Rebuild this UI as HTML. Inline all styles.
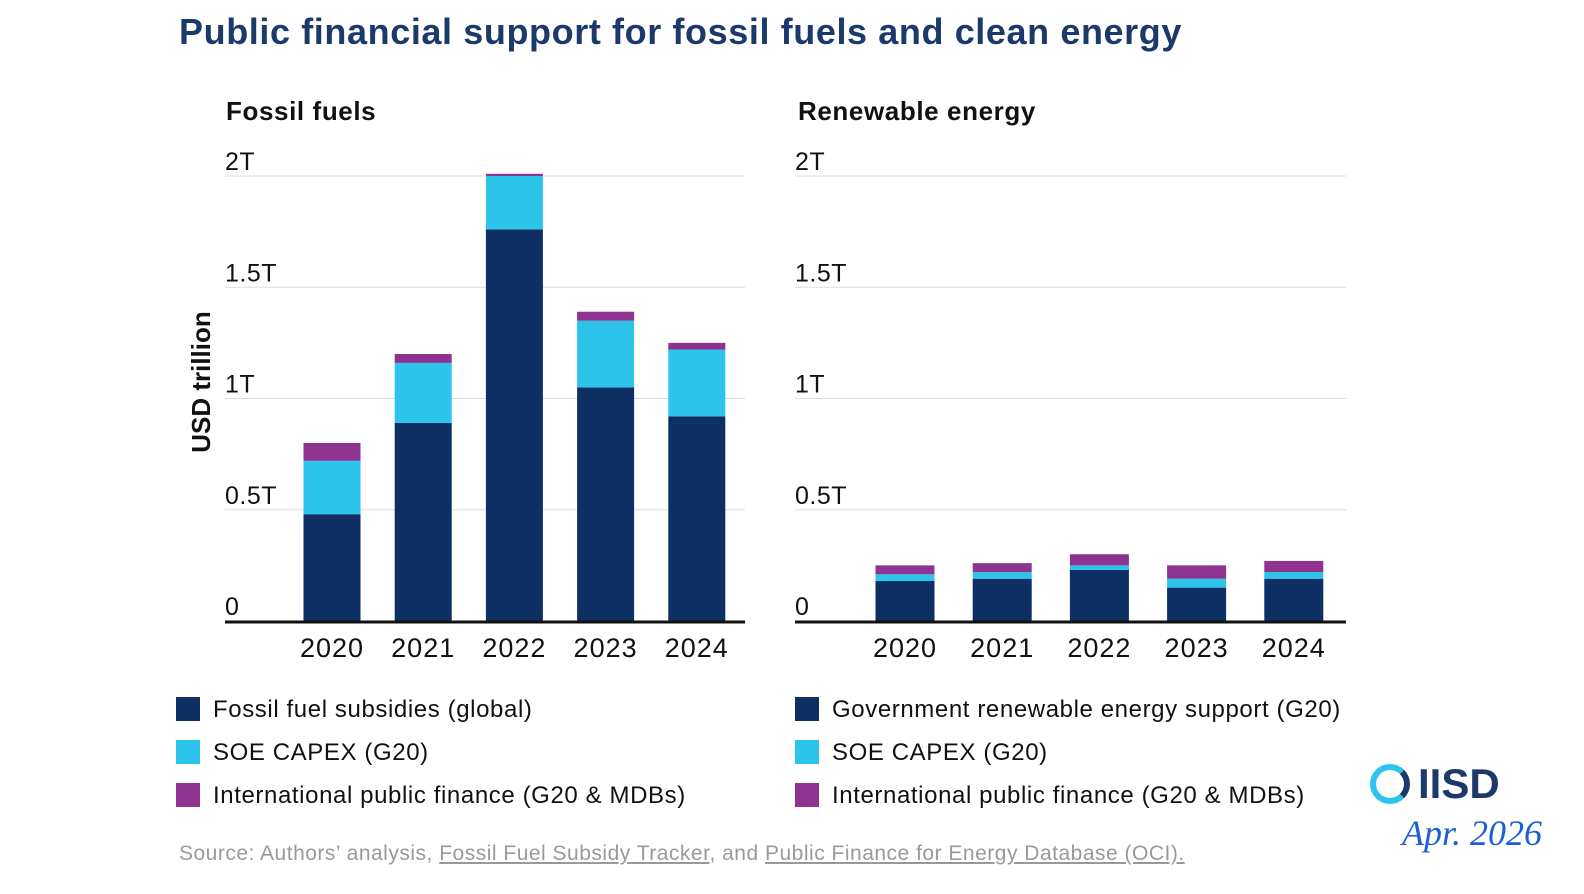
<!DOCTYPE html>
<html><head><meta charset="utf-8"><style>
body{margin:0;background:#fff;font-family:"Liberation Sans",sans-serif;}
#wrap{position:relative;width:1584px;height:894px;overflow:hidden;background:#fff}
.t{position:absolute;white-space:nowrap}
.leg{position:absolute;font-size:24px;letter-spacing:0.6px;color:#111;white-space:nowrap}
.sw{display:inline-block;width:24px;height:24px;vertical-align:-4px;margin-right:13px}
</style></head><body>
<div id="wrap">
<div class="t" style="left:179px;top:11px;font-size:36px;letter-spacing:0.6px;font-weight:bold;color:#1b3a6b">Public financial support for fossil fuels and clean energy</div>
<svg id="svg" width="1584" height="894" style="position:absolute;left:0;top:0"></svg>
<div class="leg" style="left:176px;top:696px"><span class="sw" style="background:#0d2f63"></span>Fossil fuel subsidies (global)</div>
<div class="leg" style="left:176px;top:739px"><span class="sw" style="background:#2cc4ea"></span>SOE CAPEX (G20)</div>
<div class="leg" style="left:176px;top:782px"><span class="sw" style="background:#8e3390"></span>International public finance (G20 &amp; MDBs)</div>
<div class="leg" style="left:795px;top:696px"><span class="sw" style="background:#0d2f63"></span>Government renewable energy support (G20)</div>
<div class="leg" style="left:795px;top:739px"><span class="sw" style="background:#2cc4ea"></span>SOE CAPEX (G20)</div>
<div class="leg" style="left:795px;top:782px"><span class="sw" style="background:#8e3390"></span>International public finance (G20 &amp; MDBs)</div>
<div class="t" style="left:179px;top:842px;font-size:21px;letter-spacing:0.5px;color:#999">Source: Authors’ analysis, <u>Fossil Fuel Subsidy Tracker</u>, and <u>Public Finance for Energy Database (OCI).</u></div>
<div class="t" style="left:1370px;top:760px;font-size:42px;font-weight:bold;color:#1b3a6b"><span style="display:inline-block;width:40px;height:40px;border:6px solid #2cc4ea;border-radius:50%;border-right-color:#1b3a6b;vertical-align:-6px;margin-right:8px;box-sizing:border-box"></span>IISD</div>
<div class="t" style="left:1402px;top:812px;font-size:36px;font-style:italic;color:#1a5fd6;font-family:'Liberation Serif',serif">Apr. 2026</div>
</div>
<script>
const years=["2020","2021","2022","2023","2024"];
const fossilSubsidies=[0.48,0.89,1.76,1.05,0.92];
const fossilSOE=[0.24,0.27,0.24,0.30,0.30];
const fossilIntl=[0.08,0.04,0.01,0.04,0.03];
const reGov=[0.18,0.19,0.23,0.15,0.19];
const reSOE=[0.03,0.03,0.02,0.04,0.03];
const reIntl=[0.04,0.04,0.05,0.06,0.05];
const ticks=[0,0.5,1,1.5,2];
const tickLabels=["0","0.5T","1T","1.5T","2T"];
const svg=document.getElementById('svg');const NS="http://www.w3.org/2000/svg";
function mk(tag,attrs){const e=document.createElementNS(NS,tag);for(const k in attrs)e.setAttribute(k,attrs[k]);svg.appendChild(e);return e;}
const y0=621,pxPerT=222.5;
function yS(v){return y0-v*pxPerT;}
function panel(x0,x1,firstC,step,bw,series,title,key){
  const tt=mk('text',{x:x0+(key==='fossil'?1:3),y:120,'font-size':26,'font-weight':'bold',fill:'#111','letter-spacing':0.6});tt.textContent=title;
  
  ticks.forEach((t,i)=>{
    if(i>0){const g=mk('line',{x1:x0,x2:x1,y1:yS(t),y2:yS(t),stroke:'#ddd','stroke-width':1});
    }
    const l=mk('text',{x:x0,y:yS(t)-6,'font-size':25,fill:'#111','letter-spacing':0.5});l.textContent=tickLabels[i];
    
  });
  const colors=['#0d2f63','#2cc4ea','#8e3390'];
  years.forEach((yr,i)=>{
    const cx=firstC+i*step;let acc=0;
    series.forEach((s,j)=>{const v=s[i];
      const r=mk('rect',{x:cx-bw/2,y:yS(acc+v),width:bw,height:v*pxPerT,fill:colors[j]});
      acc+=v;});
    const xl=mk('text',{x:cx,y:657,'font-size':27,fill:'#111','text-anchor':'middle','letter-spacing':1});xl.textContent=yr;
    
  });
  const b=mk('line',{x1:x0,x2:x1,y1:y0+1,y2:y0+1,stroke:'#111','stroke-width':3});
  
}
panel(225,745,332,91.2,57,[fossilSubsidies,fossilSOE,fossilIntl],'Fossil fuels','fossil');
panel(795,1346,905,97.2,59,[reGov,reSOE,reIntl],'Renewable energy','renewable');
const yt=mk('text',{x:0,y:0,'font-size':26,'font-weight':'bold',fill:'#111','text-anchor':'middle',transform:'translate(210,382) rotate(-90)'});
yt.textContent='USD trillion';

</script>
</body></html>
